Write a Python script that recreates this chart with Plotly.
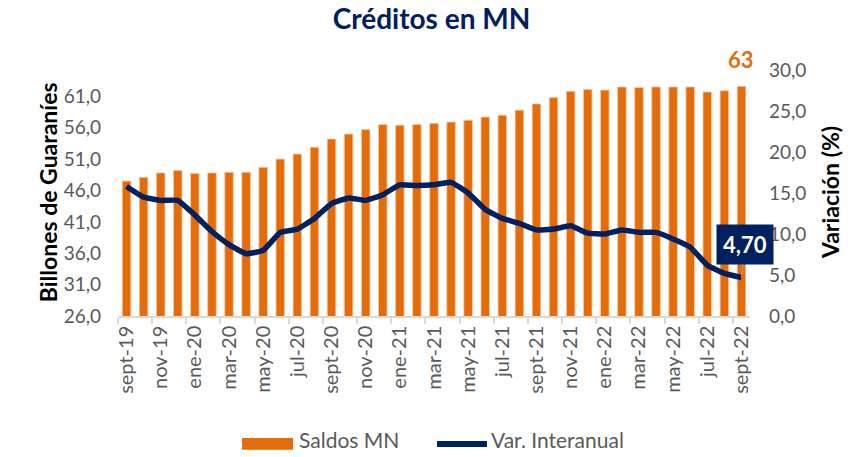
import plotly.graph_objects as go

# Monthly balances of local-currency credit and year-on-year change
meses = ["sept-19", "oct-19", "nov-19", "dic-19", "ene-20", "feb-20", "mar-20", "abr-20",
         "may-20", "jun-20", "jul-20", "ago-20", "sept-20", "oct-20", "nov-20", "dic-20",
         "ene-21", "feb-21", "mar-21", "abr-21", "may-21", "jun-21", "jul-21", "ago-21",
         "sept-21", "oct-21", "nov-21", "dic-21", "ene-22", "feb-22", "mar-22", "abr-22",
         "may-22", "jun-22", "jul-22", "ago-22", "sept-22"]

saldos_mn = [47.5, 48.1, 48.8, 49.2, 48.7, 48.8, 48.9, 48.9, 49.7, 51.0, 51.8, 52.9,
             54.2, 55.0, 55.7, 56.5, 56.4, 56.5, 56.7, 56.9, 57.2, 57.7, 58.0, 58.8,
             59.8, 60.8, 61.8, 62.1, 62.0, 62.5, 62.4, 62.5, 62.5, 62.5, 61.7, 61.9, 62.6]

var_interanual = [15.8, 14.5, 14.1, 14.1, 12.3, 10.3, 8.7, 7.6, 8.0, 10.2, 10.6, 11.9,
                  13.7, 14.4, 14.1, 14.8, 16.0, 15.9, 16.0, 16.3, 15.0, 13.0, 11.9, 11.3,
                  10.5, 10.6, 11.0, 10.1, 10.0, 10.5, 10.2, 10.2, 9.4, 8.4, 6.2, 5.2, 4.70]

NARANJA = "#E46C0A"
AZUL = "#002060"
GRIS = "#595959"
FUENTE = "Lato"

x = list(range(len(meses)))

fig = go.Figure()
fig.add_trace(go.Bar(
    x=x, y=saldos_mn, name="Saldos MN", width=0.5,
    marker=dict(color=NARANJA, line=dict(color="#F7C9A3", width=0.8)),
    yaxis="y", showlegend=False,
))
fig.add_trace(go.Scatter(
    x=x, y=var_interanual, name="Var. Interanual", mode="lines",
    line=dict(color=AZUL, width=5.5, shape="spline", smoothing=0.35),
    yaxis="y2", showlegend=False,
))

# Value labels: last balance and last year-on-year change
fig.add_annotation(
    x=x[-1], y=saldos_mn[-1], xref="x", yref="y",
    text=f"<b>{saldos_mn[-1]:.0f}</b>", showarrow=False, yshift=27,
    font=dict(family=FUENTE, size=22, color=NARANJA),
)
fig.add_annotation(
    x=x[-1], y=var_interanual[-1], xref="x", yref="y2",
    text=f"<b>{var_interanual[-1]:.2f}</b>".replace(".", ","),
    showarrow=True, arrowhead=0, arrowwidth=1, arrowcolor="#A6A6A6",
    ax=4, ay=-33, bgcolor=AZUL, borderpad=6,
    font=dict(family=FUENTE, size=22, color="white"),
)

# Axis titles
fig.add_annotation(
    xref="paper", yref="paper", x=-0.137, y=0.505, textangle=-90,
    text="<b>Billones de Guaraníes</b>", showarrow=False,
    font=dict(family=FUENTE, size=23, color="black"),
)
fig.add_annotation(
    xref="paper", yref="paper", x=1.152, y=0.5, textangle=-90,
    text="<b>Variación (%)</b>", showarrow=False,
    font=dict(family=FUENTE, size=23, color="black"),
)

# Legend drawn below the chart
leg_y = -0.52
fig.add_shape(type="rect", xref="paper", yref="paper",
              x0=(242 - 118) / 632, x1=(293 - 118) / 632,
              y0=leg_y - 0.024, y1=leg_y + 0.024,
              fillcolor=NARANJA, line=dict(width=0))
fig.add_annotation(xref="paper", yref="paper", x=(297 - 118) / 632, y=leg_y,
                   xanchor="left", text="Saldos MN", showarrow=False, yshift=-10,
                   font=dict(family=FUENTE, size=21, color=GRIS))
fig.add_shape(type="line", xref="paper", yref="paper",
              x0=(437 - 118) / 632, x1=(487 - 118) / 632, y0=leg_y, y1=leg_y,
              line=dict(color=AZUL, width=6))
fig.add_annotation(xref="paper", yref="paper", x=(489 - 118) / 632, y=leg_y,
                   xanchor="left", text="Var. Interanual", showarrow=False, yshift=-10,
                   font=dict(family=FUENTE, size=21, color=GRIS))

fig.update_layout(
    width=863, height=457,
    margin=dict(l=118, r=113, t=70, b=141),
    paper_bgcolor="white", plot_bgcolor="white",
    separators=",.",
    font=dict(family=FUENTE, color=GRIS),
    title=dict(text="<b>Créditos en MN</b>", x=0.5, xanchor="center",
               y=1 - 19 / 457, yref="container", yanchor="middle",
               font=dict(family=FUENTE, size=28, color=AZUL)),
    xaxis=dict(
        range=[-0.5, len(meses) - 0.5],
        tickvals=x[::2], ticktext=meses[::2], tickangle=-90,
        ticks="", showgrid=False, zeroline=False,
        showline=True, linecolor="#D9D9D9", linewidth=1.5,
        tickfont=dict(family=FUENTE, size=20, color=GRIS),
        minor=dict(tick0=-0.5, dtick=2, ticks="outside", ticklen=6,
                   tickcolor="#D9D9D9", tickwidth=1.5, showgrid=False),
    ),
    yaxis=dict(
        range=[26, 65.2], tick0=26, dtick=5, tickformat=".1f",
        showgrid=False, zeroline=False, showline=False, ticks="",
        ticklabelstandoff=16,
        tickfont=dict(family=FUENTE, size=19, color=GRIS),
    ),
    yaxis2=dict(
        range=[0, 30], tick0=0, dtick=5, tickformat=".1f",
        overlaying="y", side="right",
        showgrid=False, zeroline=False, showline=False, ticks="",
        ticklabelstandoff=18,
        tickfont=dict(family=FUENTE, size=19, color=GRIS),
    ),
)

fig.write_html("out.html")
